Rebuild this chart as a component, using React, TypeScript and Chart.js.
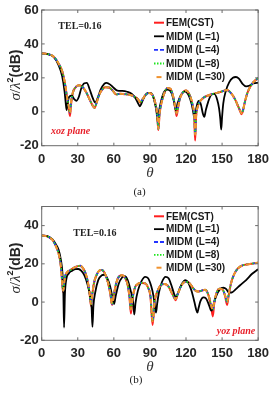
import { useEffect, useRef } from 'react';
import { Chart, registerables } from 'chart.js';

Chart.register(...registerables);

// ---------- shared axis / legend data ----------
const THETA_TICKS = [0, 30, 60, 90, 120, 150, 180];
const SERIES_LABELS = ['FEM(CST)', 'MIDM (L=1)', 'MIDM (L=4)', 'MIDM (L=8)', 'MIDM (L=30)'];

// ---------- (a) xoz plane ----------
const A_Y_TICKS = [-20, 0, 20, 40, 60];
const A_THETA = [
  0, 5, 10, 14, 17, 19, 21, 22.5, 23.5, 24.5,
  26, 28, 31, 34, 37, 40, 42.5, 44, 45.5, 47.5,
  50, 53, 56, 59, 62, 65, 69, 73, 77, 80,
  82, 84, 86.5, 89, 92, 94.5, 96, 97, 98, 99.5,
  102, 104.5, 107, 109.5, 111, 112.2, 113.4, 115, 117.5, 120,
  123, 125.5, 126.8, 127.6, 128.4, 129.7, 132, 135, 140, 145,
  150, 154, 158, 161, 163.5, 165.2, 166.2, 167.2, 168.7, 171,
  175, 180,
];
const A_FEM = [
  34.4, 34.0, 32.5, 28.5, 24, 18, 9, 2, -2.5, 5,
  11.5, 14.3, 15.6, 14.6, 11.5, 7, 3.5, 2.2, 5, 9.5,
  12.8, 14.5, 14.3, 12.5, 10.2, 10.6, 10.4, 10, 9, 7.5,
  5.4, 7.5, 10, 11, 10, 5, -1.5, -10.8, -1.5, 5,
  11, 14, 13.5, 8.5, 2.5, -2.5, 2.5, 8, 11.5, 12.5,
  10, 4, -3, -17, -3, 3, 6.5, 8.5, 10, 11,
  12, 12.8, 10.5, 7, 3, 0, -1.5, 0, 5, 11,
  16.5, 20,
];
// L=4, L=8 and L=30 converge onto the same curve
const A_MIDM_CONVERGED = [
  34.4, 34.0, 32.5, 28.5, 24, 18, 9, 3, -0.5, 6,
  11.5, 14.3, 15.6, 14.6, 11.5, 7, 3.5, 2.5, 5, 9.5,
  12.8, 14.5, 14.3, 12.5, 10.2, 10.6, 10.4, 10, 9, 7.5,
  5.6, 7.5, 10, 11, 10, 5, -1, -10, -1, 5,
  11, 14, 13.5, 8.5, 3, -1, 3, 8, 11.5, 12.5,
  10, 4, -2, -13.5, -2, 3, 6.5, 8.5, 10, 11,
  12, 12.8, 10.5, 7, 3, 0.5, -0.8, 0.5, 5, 11,
  16.5, 20,
];
const A_L1_THETA = [
  0, 5, 10, 14, 17, 19, 20, 20.7, 21.5, 23,
  25, 27, 29, 31, 33, 35.5, 37.5, 40, 42.5, 44.5,
  46.5, 49, 52, 54, 57, 60, 63, 67, 71, 75,
  78, 80.5, 81.7, 83, 85.5, 88, 91, 93.5, 95.5, 96.5,
  97.5, 99.5, 102, 105, 108, 110, 111.5, 113, 115.5, 119,
  122, 124.5, 126, 127, 128, 129.5, 131, 132.5, 134, 135.2,
  136.5, 138.5, 141, 143.5, 146, 147.5, 148.5, 149.3, 150, 151,
  153, 156, 159, 161.5, 164, 167, 170, 173, 176, 180,
];
const A_MIDM_L1 = [
  34.4, 34.0, 32.3, 27.5, 21, 12, 5, 1, 5, 9,
  9.5, 7.5, 6.5, 9, 14, 16.8, 17, 13, 8, 5.5,
  8, 13, 16.5, 17, 16, 14, 12.5, 12.3, 11.8, 10.5,
  8, 4.5, 3.2, 5, 9, 11, 11, 7, 0, -6,
  0, 7, 12, 13, 11, 6, 1, 5, 9.5, 12,
  10, 5, 0, -4, 0, 5, 6.5, 4, -1, -3,
  1, 6, 10, 10.5, 7, 2, -4, -10.5, -3, 5,
  12, 17.5, 20, 20.5, 19.5, 16.5, 15, 15.5, 16.8, 17,
];

// ---------- (b) yoz plane ----------
const B_Y_TICKS = [-20, 0, 20, 40];
const B_THETA = [
  0, 5, 9, 12, 14, 15.5, 16.5, 17.3, 18, 18.7,
  19.5, 21, 24, 27, 30, 32, 34, 36.5, 38.5, 40,
  41, 42, 43.5, 45.5, 48, 50, 52.5, 55, 57, 58.5,
  60, 62, 64.5, 67, 69.5, 71.5, 73, 74.2, 75.5, 77.5,
  80, 83, 86, 88.5, 90.5, 92.2, 94, 96.5, 99, 102,
  105, 108, 110, 111.3, 113, 116, 119, 121.5, 124, 127,
  130, 133, 136, 139, 141, 142.3, 143.5, 145.5, 148, 150.5,
  152.5, 154.2, 155.5, 157.5, 160, 163, 167, 172, 176, 180,
];
const B_FEM = [
  34.8, 34.3, 32.5, 29, 25.5, 21, 15, 7.5, 5, 10,
  13.5, 15.5, 16.8, 18, 18.8, 19, 18, 15, 10, 3.5,
  -2, 3.5, 10, 14, 16.5, 16.8, 15, 10.5, 4.5, -1.5,
  3.5, 10, 13.5, 14, 12.5, 9, 2.5, -6, 1.5, 7.5,
  9.5, 10, 9.8, 7.5, 2.5, -12, 0.5, 6, 8.8, 9.5,
  8.5, 5, 2.5, 1, 4, 8.5, 10.5, 10.5, 9, 6.5,
  5.5, 6, 6.5, 3, -3, -7.5, -0.5, 5, 7, 6.5,
  3, -1.5, 3.5, 10, 14.5, 17.5, 19.2, 19.8, 20.2, 20.6,
];
const B_MIDM_CONVERGED = [
  34.8, 34.3, 32.5, 29, 25.5, 21, 15, 8, 6, 10,
  13.5, 15.5, 16.8, 18, 18.8, 19, 18, 15, 10, 4,
  -1, 4, 10, 14, 16.5, 16.8, 15, 10.5, 5, -1,
  4, 10, 13.5, 14, 12.5, 9, 3, -4, 2, 7.5,
  9.5, 10, 9.8, 7.5, 3, -10, 1, 6, 8.8, 9.5,
  8.5, 5, 2.5, 1.5, 4, 8.5, 10.5, 10.5, 9, 6.5,
  5.5, 6, 6.5, 3, -2, -4, 0, 5, 7, 6.5,
  3.5, 0, 4, 10, 14.5, 17.5, 19.2, 19.8, 20.2, 20.6,
];
const B_L1_THETA = [
  0, 5, 9, 12, 14, 16, 17.3, 18, 18.6, 19.3,
  20.5, 22.5, 25, 28, 30.5, 33, 35.5, 38, 40, 41.5,
  42.2, 43, 44.5, 47, 50, 52, 54.5, 57, 59, 60.2,
  61.5, 64, 67, 69, 71.5, 74, 76, 77, 78, 80,
  83, 86, 88.5, 91, 93, 94.3, 95.1, 96, 97.5, 100,
  103, 105.5, 108, 110, 111.5, 113.5, 116.5, 119.5, 122, 124.5,
  127, 128.5, 129.5, 130.5, 132, 134.5, 136.5, 138.5, 140.5, 141.3,
  142.5, 145, 148, 151, 153.5, 155.5, 158, 161, 165, 170,
  175, 180,
];
const B_MIDM_L1 = [
  34.8, 34.4, 32.8, 30, 27.5, 22, 15, 5, -13.3, 4,
  12, 15, 16.3, 17.2, 17.3, 16.3, 14, 9.5, 4, -3,
  -13, -2, 5, 11.5, 14, 14.3, 12.5, 8, 2, -1,
  3, 9.5, 13, 13.5, 11.5, 6, 0, -6.5, -0.5, 6,
  11, 13.2, 12.5, 8.5, 3, -3, -5.5, -1, 5, 10.5,
  13.2, 12.5, 8.5, 4.5, 2.5, 5, 9.5, 11.5, 10, 6,
  0, -4, -5.5, -3, 0.5, 2.5, 2, -0.5, -4, -4.5,
  -2, 3, 6.5, 7.5, 6.8, 5, 5, 6.5, 8.8, 11.5,
  14.8, 17.2,
];

// ---------- styles ----------
const SANS = '"Liberation Sans", Arial, sans-serif';
const SERIF = '"Liberation Serif", "Times New Roman", serif';

// later series are painted over earlier ones
const SERIES_STYLES = [
  { color: '#ff1f1f', width: 2, dash: [] as number[], legendDash: [] as number[], legendOffset: 0 },
  { color: '#000000', width: 1.8, dash: [], legendDash: [], legendOffset: 0 },
  { color: '#2233ff', width: 1.8, dash: [4, 3], legendDash: [4, 2], legendOffset: 0 },
  { color: '#1ee61e', width: 1.8, dash: [1.5, 1.5], legendDash: [1.5, 1.5], legendOffset: 0 },
  { color: '#f0922e', width: 2, dash: [5, 4], legendDash: [5, 5], legendOffset: -2.5 },
];

type PanelCfg = {
  yMin: number;
  yMax: number;
  yTicks: number[];
  theta: number[];
  fem: number[];
  converged: number[];
  l1Theta: number[];
  l1: number[];
  plotTop: number;
  plotBottom: number;
  legendTop: number;
  legendStep: number;
  tel: { x: number; y: number };
  plane: { text: string; x: number; y: number };
  yTitleY: number;
  thetaY: number;
  caption: { text: string; x: number; y: number };
};

const PANEL_A: PanelCfg = {
  yMin: -20,
  yMax: 60,
  yTicks: A_Y_TICKS,
  theta: A_THETA,
  fem: A_FEM,
  converged: A_MIDM_CONVERGED,
  l1Theta: A_L1_THETA,
  l1: A_MIDM_L1,
  plotTop: 10,
  plotBottom: 145.7,
  legendTop: 22.7,
  legendStep: 13.6,
  tel: { x: 58.3, y: 26.7 },
  plane: { text: 'xoz plane', x: 51, y: 131.7 },
  yTitleY: 75,
  thetaY: 173,
  caption: { text: '(a)', x: 139.5, y: 191.7 },
};

const PANEL_B: PanelCfg = {
  yMin: -20,
  yMax: 50,
  yTicks: B_Y_TICKS,
  theta: B_THETA,
  fem: B_FEM,
  converged: B_MIDM_CONVERGED,
  l1Theta: B_L1_THETA,
  l1: B_MIDM_L1,
  plotTop: 7,
  plotBottom: 143.3,
  legendTop: 19.3,
  legendStep: 12.85,
  tel: { x: 73.3, y: 36.3 },
  plane: { text: 'yoz plane', x: 216.7, y: 134.7 },
  yTitleY: 71,
  thetaY: 170,
  caption: { text: '(b)', x: 136, y: 182.7 },
};

const W = 276;
const H = 197;
const PLOT_LEFT = 41.7;
const PLOT_RIGHT = 261;

const zip = (xs: number[], ys: number[]) => xs.map((x, i) => ({ x, y: ys[i] }));

function drawYTitle(ctx: CanvasRenderingContext2D, cx: number, cy: number) {
  const parts = [
    { t: '\u03c3', f: `italic 15px ${SERIF}`, dy: 0 },
    { t: '/', f: `15px ${SERIF}`, dy: 0 },
    { t: '\u03bb', f: `italic 15px ${SERIF}`, dy: 0 },
    { t: '2', f: `bold 9px ${SANS}`, dy: -7 },
    { t: '(dB)', f: `bold 14px ${SANS}`, dy: 0 },
  ];
  ctx.save();
  ctx.translate(cx, cy);
  ctx.rotate(-Math.PI / 2);
  ctx.fillStyle = '#262626';
  ctx.textBaseline = 'alphabetic';
  ctx.textAlign = 'left';
  let total = 0;
  const widths = parts.map((p) => {
    ctx.font = p.f;
    const w = ctx.measureText(p.t).width;
    total += w;
    return w;
  });
  let x = -total / 2;
  parts.forEach((p, i) => {
    ctx.font = p.f;
    ctx.fillText(p.t, x, 5 + p.dy);
    x += widths[i];
  });
  ctx.restore();
}

function overlayPlugin(cfg: PanelCfg) {
  return {
    id: 'panelOverlay',
    afterDraw(chart: any) {
      const { ctx, chartArea: a, scales } = chart;
      const xs = scales.x;
      const ys = scales.y;
      ctx.save();

      // axes box with inward ticks
      ctx.strokeStyle = '#6a6a6a';
      ctx.lineWidth = 1;
      ctx.setLineDash([]);
      ctx.strokeRect(a.left, a.top, a.right - a.left, a.bottom - a.top);
      ctx.beginPath();
      THETA_TICKS.forEach((v) => {
        const px = xs.getPixelForValue(v);
        ctx.moveTo(px, a.bottom);
        ctx.lineTo(px, a.bottom - 3);
        ctx.moveTo(px, a.top);
        ctx.lineTo(px, a.top + 3);
      });
      cfg.yTicks.forEach((v) => {
        const py = ys.getPixelForValue(v);
        ctx.moveTo(a.left, py);
        ctx.lineTo(a.left + 3, py);
        ctx.moveTo(a.right, py);
        ctx.lineTo(a.right - 3, py);
      });
      ctx.stroke();

      // legend
      chart.data.datasets.forEach((ds: any, i: number) => {
        const st = SERIES_STYLES[i];
        const y = cfg.legendTop + i * cfg.legendStep;
        ctx.save();
        ctx.strokeStyle = st.color;
        ctx.lineWidth = st.width;
        ctx.setLineDash(st.legendDash);
        ctx.lineDashOffset = st.legendOffset;
        ctx.beginPath();
        ctx.moveTo(154, y);
        ctx.lineTo(164, y);
        ctx.stroke();
        ctx.restore();
        ctx.font = `bold 10px ${SANS}`;
        ctx.fillStyle = '#1a1a1a';
        ctx.textAlign = 'left';
        ctx.textBaseline = 'middle';
        ctx.fillText(ds.label, 166, y + 0.5);
      });

      // annotations
      ctx.font = `bold 10px ${SERIF}`;
      ctx.fillStyle = '#222';
      ctx.textAlign = 'left';
      ctx.textBaseline = 'middle';
      ctx.fillText('TEL=0.16', cfg.tel.x, cfg.tel.y);

      ctx.font = `italic bold 10px ${SERIF}`;
      ctx.fillStyle = '#e8202a';
      ctx.fillText(cfg.plane.text, cfg.plane.x, cfg.plane.y);

      // axis titles
      drawYTitle(ctx, 15, cfg.yTitleY);

      ctx.font = `italic 15px ${SERIF}`;
      ctx.fillStyle = '#333';
      ctx.textAlign = 'center';
      ctx.textBaseline = 'middle';
      ctx.fillText('\u03b8', (a.left + a.right) / 2, cfg.thetaY);

      ctx.font = `11px ${SERIF}`;
      ctx.fillStyle = '#222';
      ctx.fillText(cfg.caption.text, cfg.caption.x, cfg.caption.y);

      ctx.restore();
    },
  };
}

function Panel({ cfg }: { cfg: PanelCfg }) {
  const ref = useRef<HTMLCanvasElement>(null);

  useEffect(() => {
    const canvas = ref.current;
    if (!canvas) return;
    const seriesData = [
      zip(cfg.theta, cfg.fem),
      zip(cfg.l1Theta, cfg.l1),
      zip(cfg.theta, cfg.converged),
      zip(cfg.theta, cfg.converged),
      zip(cfg.theta, cfg.converged),
    ];
    const tickFont = { family: SANS, size: 13, weight: 'bold' as const, lineHeight: 1 };

    const chart = new Chart(canvas, {
      type: 'line',
      data: {
        datasets: SERIES_LABELS.map((label, i) => ({
          label,
          data: seriesData[i],
          borderColor: SERIES_STYLES[i].color,
          borderWidth: SERIES_STYLES[i].width,
          borderDash: SERIES_STYLES[i].dash,
          pointRadius: 0,
          fill: false,
          cubicInterpolationMode: 'monotone' as const,
          // lower order is painted on top, so the last series ends up uppermost
          order: SERIES_LABELS.length - i,
        })),
      },
      options: {
        animation: false,
        responsive: false,
        maintainAspectRatio: false,
        devicePixelRatio: 1,
        layout: { padding: { top: cfg.plotTop, right: W - PLOT_RIGHT, left: 0, bottom: 0 } },
        plugins: { legend: { display: false }, tooltip: { enabled: false } },
        scales: {
          x: {
            type: 'linear',
            min: 0,
            max: 180,
            grid: { display: false, drawTicks: false },
            border: { display: false },
            afterBuildTicks: (s: any) => {
              s.ticks = THETA_TICKS.map((value) => ({ value }));
            },
            afterFit: (s: any) => {
              s.height = H - cfg.plotBottom;
            },
            ticks: {
              font: tickFont,
              color: '#262626',
              padding: 7,
              maxRotation: 0,
              autoSkip: false,
            },
          },
          y: {
            type: 'linear',
            min: cfg.yMin,
            max: cfg.yMax,
            grid: { display: false, drawTicks: false },
            border: { display: false },
            afterBuildTicks: (s: any) => {
              s.ticks = cfg.yTicks.map((value) => ({ value }));
            },
            afterFit: (s: any) => {
              s.width = PLOT_LEFT;
            },
            ticks: {
              font: tickFont,
              color: '#262626',
              padding: 3,
              autoSkip: false,
            },
          },
        },
      },
      plugins: [overlayPlugin(cfg)],
    });
    return () => chart.destroy();
  }, [cfg]);

  return <canvas ref={ref} width={W} height={H} style={{ display: 'block', width: W, height: H }} />;
}

export default function App() {
  return (
    <div style={{ position: 'fixed', left: 0, top: 0, width: W, height: 2 * H, background: '#fff' }}>
      <Panel cfg={PANEL_A} />
      <Panel cfg={PANEL_B} />
    </div>
  );
}
